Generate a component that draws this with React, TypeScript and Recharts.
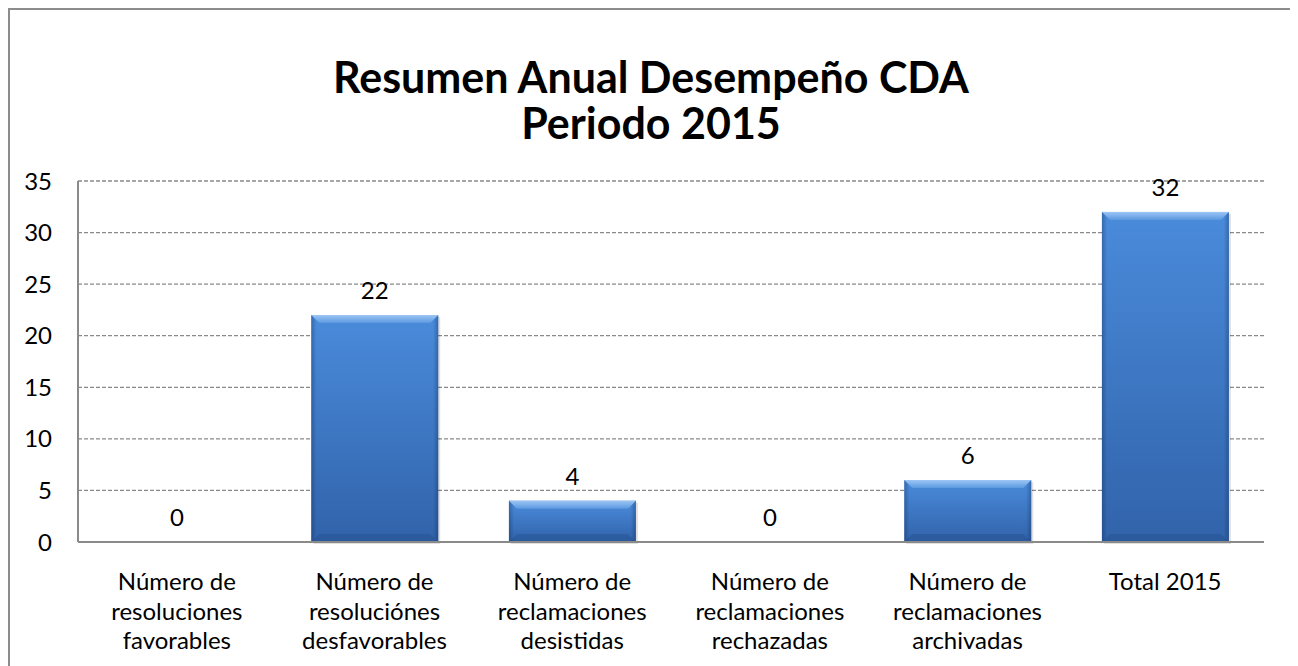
import React from "react";
import { BarChart, Bar, XAxis, YAxis, CartesianGrid, LabelList } from "recharts";

const categories: string[][] = [
  ["Número de", "resoluciones", "favorables"],
  ["Número de", "resoluciónes", "desfavorables"],
  ["Número de", "reclamaciones", "desistidas"],
  ["Número de", "reclamaciones", "rechazadas"],
  ["Número de", "reclamaciones", "archivadas"],
  ["Total 2015"],
];
const values: number[] = [0, 22, 4, 0, 6, 32];
const yTicks: number[] = [0, 5, 10, 15, 20, 25, 30, 35];
const titleLines: string[] = ["Resumen Anual Desempeño CDA", "Periodo 2015"];

const data = categories.map((c, i) => ({ name: c.join(" "), lines: c, value: values[i] }));

const FONT = "Lato, 'Open Sans', sans-serif";

const CatTick = (props: any) => {
  const { x, y, payload, index } = props;
  const lines = categories[index] || [String(payload.value)];
  return (
    <g transform={`translate(${x},${y})`}>
      <text textAnchor="middle" fontFamily={FONT} fontSize={24} fill="#000">
        {lines.map((l, i) => (
          <tspan key={i} x={0} y={40 + i * 29.5}>
            {l}
          </tspan>
        ))}
      </text>
    </g>
  );
};

const BevelBar = (props: any) => {
  const { x, y, width, height } = props;
  if (!height || height <= 0) return null;
  const b = Math.min(8, height / 2);
  return (
    <g>
      <rect x={x + 2} y={y + 2} width={width} height={height} fill="#000" opacity={0.12} />
      <rect x={x} y={y} width={width} height={height} fill="url(#barV)" />
      <rect x={x} y={y} width={width} height={height} fill="url(#barH)" />
      <polygon
        points={`${x},${y} ${x + width},${y} ${x + width - b},${y + b} ${x + b},${y + b}`}
        fill="url(#barTop)"
      />
      <polygon
        points={`${x},${y + height} ${x + width},${y + height} ${x + width - b},${y + height - b} ${x + b},${y + height - b}`}
        fill="#1f4a85"
        opacity={0.35}
      />
    </g>
  );
};

export default function App() {
  return (
    <div
      style={{
        position: "relative",
        width: 1286,
        height: 690,
        border: "2px solid #8c8c8c",
        boxSizing: "border-box",
        background: "#fff",
      }}
    >
      <div
        style={{
          position: "absolute",
          left: 0,
          top: 44,
          width: 1282,
          textAlign: "center",
          fontFamily: FONT,
          fontWeight: 700,
          fontSize: 43,
          lineHeight: "46px",
          color: "#000",
        }}
      >
        {titleLines.map((t, i) => (
          <div key={i}>{t}</div>
        ))}
      </div>
      <div style={{ position: "absolute", left: 0, top: 0 }}>
        <BarChart
          width={1282}
          height={660}
          data={data}
          margin={{ top: 171, right: 28, bottom: 18, left: 0 }}
          barCategoryGap="18%"
        >
          <defs>
            <linearGradient id="barV" x1="0" y1="0" x2="0" y2="1">
              <stop offset="0%" stopColor="#4a8bdb" />
              <stop offset="100%" stopColor="#3163aa" />
            </linearGradient>
            <linearGradient id="barH" x1="0" y1="0" x2="1" y2="0">
              <stop offset="0%" stopColor="#0d2a55" stopOpacity={0.35} />
              <stop offset="4%" stopColor="#0d2a55" stopOpacity={0} />
              <stop offset="96%" stopColor="#0d2a55" stopOpacity={0} />
              <stop offset="100%" stopColor="#0d2a55" stopOpacity={0.35} />
            </linearGradient>
            <linearGradient id="barTop" x1="0" y1="0" x2="0" y2="1">
              <stop offset="0%" stopColor="#9cc6f5" />
              <stop offset="100%" stopColor="#5b98e0" />
            </linearGradient>
          </defs>
          <CartesianGrid
            vertical={false}
            stroke="#8a8a8a"
            strokeDasharray="4 2"
            strokeWidth={1.3}
          />
          <XAxis
            dataKey="name"
            interval={0}
            height={110}
            tick={<CatTick />}
            tickLine={false}
            axisLine={{ stroke: "#8a8a8a", strokeWidth: 2 }}
          />
          <YAxis
            domain={[0, 35]}
            ticks={yTicks}
            width={68}
            tickSize={0}
            tickMargin={26}
            tickLine={false}
            axisLine={{ stroke: "#8a8a8a", strokeWidth: 2 }}
            tick={{ fontFamily: FONT, fontSize: 24, fill: "#000" }}
            interval={0}
          />
          <Bar dataKey="value" isAnimationActive={false} shape={<BevelBar />}>
            <LabelList
              dataKey="value"
              position="top"
              offset={16}
              style={{ fontFamily: FONT, fontSize: 24, fill: "#000" }}
            />
          </Bar>
        </BarChart>
      </div>
    </div>
  );
}
